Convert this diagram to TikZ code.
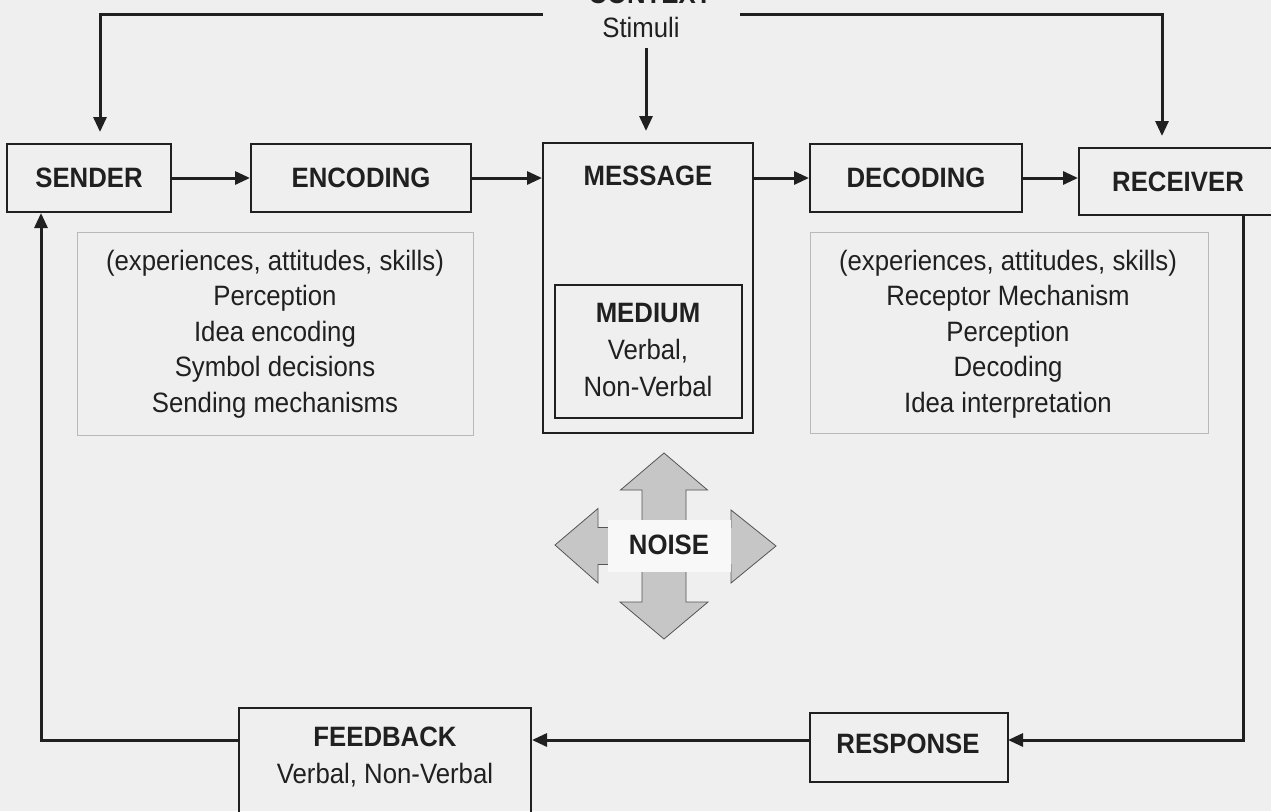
\documentclass[tikz,border=0pt]{standalone}
\usepackage{fontspec}
\setmainfont{Liberation Sans}[FakeStretch=0.92]
\usetikzlibrary{arrows.meta}
\definecolor{paper}{RGB}{239,239,239}
\definecolor{ink}{RGB}{32,32,32}
\definecolor{noisefill}{RGB}{198,198,198}
\definecolor{noiseedge}{RGB}{85,85,85}

\begin{document}
\begin{tikzpicture}[x=1pt,y=-1pt,
  txt/.style={font=\fontsize{28}{36}\selectfont, text=ink, inner sep=0pt},
  head/.style={txt, font=\fontsize{28}{36}\selectfont\bfseries},
  box/.style={draw=ink, line width=2pt, inner sep=0pt},
  infobox/.style={draw=gray!55, line width=1pt, inner sep=0pt},
  wire/.style={draw=ink, line width=3pt},
  arr/.style={wire, -{Triangle[length=15pt,width=13pt]}},
  drop/.style={arr, shorten >=11pt},
  noisearrow/.style={fill=noisefill, draw=noiseedge, line width=0.8pt, line join=miter}
]
% page
\fill[paper] (0,0) rectangle (1271,811);
\useasboundingbox (0,0) rectangle (1271,811);
\clip (0,0) rectangle (1271,811);

% top: context and stimuli
\node[head, anchor=base] (context) at (650,4) {CONTEXT};
\node[txt] (stimuli) at (641,27) {Stimuli};

% main chain
\node[box, minimum width=164pt, minimum height=68pt] (sender) at (89,178) {};
\node[head] (sendert) at (sender) {SENDER};
\node[box, minimum width=220pt, minimum height=68pt] (encoding) at (361,178) {};
\node[head] (encodingt) at (encoding) {ENCODING};
\node[box, minimum width=210pt, minimum height=290pt] (message) at (648,288) {};
\node[head] (messaget) at (648,176) {MESSAGE};
\node[box, minimum width=187pt, minimum height=133pt] (medium) at (648.5,351.5) {};
\node[txt, align=center, font=\fontsize{28}{37}\selectfont] (mediumt) at (648,350)
  {\textbf{MEDIUM}\\Verbal,\\Non-Verbal};
\node[box, minimum width=212pt, minimum height=68pt] (decoding) at (916,178) {};
\node[head] (decodingt) at (decoding) {DECODING};
\node[box, minimum width=198pt, minimum height=67pt] (receiver) at (1178,181.5) {};
\node[head] (receivert) at (1178,182) {RECEIVER};

% sender and receiver side detail
\node[infobox, minimum width=396pt, minimum height=203pt] (sinfo) at (275,333.5) {};
\node[txt, align=center, font=\fontsize{28}{35.5}\selectfont] (sinfot) at (275,334)
  {(experiences, attitudes, skills)\\Perception\\Idea encoding\\Symbol decisions\\Sending mechanisms};
\node[infobox, minimum width=398pt, minimum height=201pt] (rinfo) at (1009,332.5) {};
\node[txt, align=center, font=\fontsize{28}{35.5}\selectfont] (rinfot) at (1008,334)
  {(experiences, attitudes, skills)\\Receptor Mechanism\\Perception\\Decoding\\Idea interpretation};

% return path
\node[box, minimum width=198pt, minimum height=69pt] (response) at (909,747.5) {};
\node[head] (responset) at (908,744) {RESPONSE};
\node[box, minimum width=292pt, minimum height=125pt] (feedback) at (385,770.5) {};
\node[head] (feedbackt) at (385,737) {FEEDBACK};
\node[txt] (feedbacks) at (385,775) {Verbal, Non-Verbal};

% connectors
\coordinate (ctxl) at (543,14);
\coordinate (tl) at (100,14);
\coordinate (ctxr) at (740,14);
\coordinate (tr) at (1162,14);
\coordinate (rr) at (1243,215);
\coordinate (ret) at (1008,740);
\coordinate (fl) at (41,740);
\coordinate (stim) at (646,48);
\draw[drop] (ctxl) -- (tl) -- (tl |- sender.north);
\draw[drop] (ctxr) -- (tr) -- (tr |- receiver.north);
\draw[drop] (stim) -- (stim |- message.north);
\draw[arr] (sender.east) -- (encoding.west);
\draw[arr] (encoding.east) -- (encoding.east -| message.west);
\draw[arr] (encoding.east -| message.east) -- (decoding.west);
\draw[arr] (decoding.east) -- (decoding.east -| receiver.west);
\draw[arr] (receiver.south -| rr) -- (rr |- ret) -- (ret);
\draw[arr] (ret -| response.west) -- (ret -| feedback.east);
\draw[arr] (ret -| feedback.west) -- (fl) -- (fl |- sender.south);

% noise arrows
\begin{scope}[shift={(664,546)}]
  \draw[noisearrow] (-22,-24) -- (-22,-56) -- (-43.5,-56) -- (0,-93) -- (43.5,-56) -- (22,-56) -- (22,-24) -- cycle;
  \draw[noisearrow] (-22,24) -- (-22,56) -- (-44,56) -- (0,93) -- (44,56) -- (22,56) -- (22,24) -- cycle;
  \draw[noisearrow] (-50,-18.5) -- (-66,-18.5) -- (-66,-37.5) -- (-109,-1) -- (-66,37) -- (-66,18.5) -- (-50,18.5) -- cycle;
  \draw[noisearrow] (60,-18.5) -- (67,-18.5) -- (67,-36) -- (112,0) -- (67,37) -- (67,18.5) -- (60,18.5) -- cycle;
  \fill[white!55!paper] (-56,-26) rectangle (67,26);
\end{scope}
\node[head] (noise) at (669,545) {NOISE};
\end{tikzpicture}
\end{document}
